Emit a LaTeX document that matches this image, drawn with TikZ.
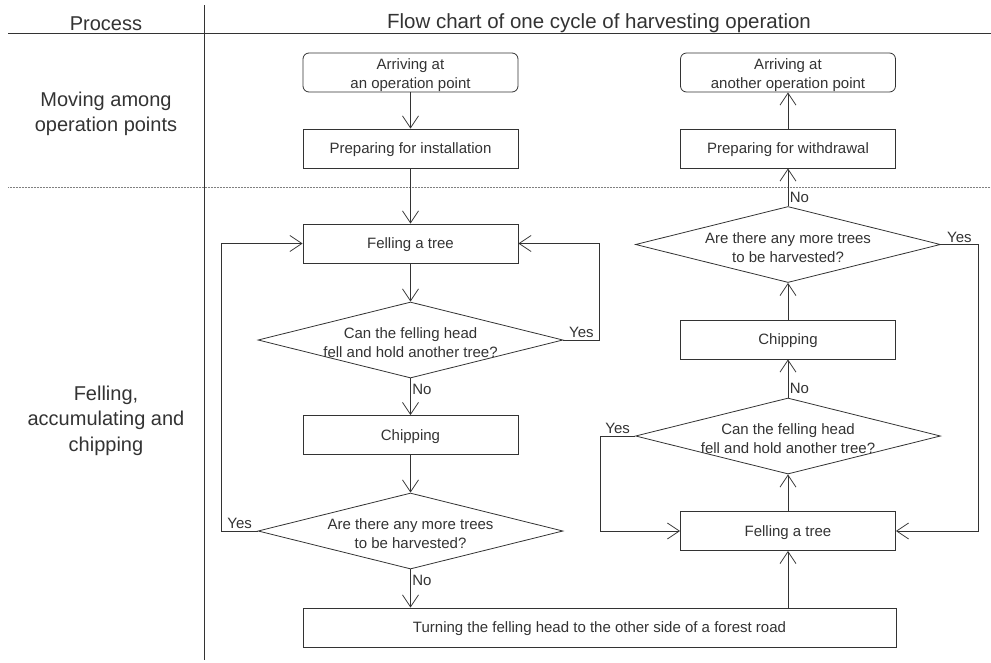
\documentclass[tikz,border=0pt]{standalone}
\usepackage{fontspec}
\setmainfont{Liberation Sans}
\usetikzlibrary{shapes.geometric,arrows.meta}

\begin{document}
\begin{tikzpicture}[x=1pt, y=-1pt, line width=0.8pt, color=black!80,
  every node/.style={font=\fontsize{15}{19}\selectfont},
  box/.style={rectangle, draw, minimum width=215, minimum height=39, align=center, text depth=0pt},
  endbox/.style={box, rounded corners=6pt},
  decide/.style={diamond, draw, minimum width=305, minimum height=76, inner sep=0pt},
  inside/.style={align=center, yshift=-3pt},
  flow/.style={-{Straight Barb[length=12pt,width=16pt]}},
  ans/.style={inner sep=1.5pt},
  big/.style={align=center, font=\fontsize{20}{25.5}\selectfont}]
  \useasboundingbox (0,0) rectangle (991,662);

  \draw (8,33) -- (991,33);
  \draw (204,5) -- (204,660);
  \draw[densely dotted, line width=0.5pt, gray] (8,187) -- (991,187);

  \node[big] (hproc) at (106,23.5) {Process};
  \node[big, font=\fontsize{20.5}{25.5}\selectfont] (hflow) at (599,23.5) {Flow chart of one cycle of harvesting operation};
  \node[big] (moving) at (106,114) {Moving among\\operation points};
  \node[big] (felling) at (106,420.5) {Felling,\\accumulating and\\chipping};

  \node[endbox, label={[inside]center:Arriving at\\an operation point}] (arr1) at (410.5,72.5) {};
  \node[box] (prep1) at (410.5,148.5) {Preparing for installation};
  \node[box] (fell1) at (410.5,243.5) {Felling a tree};
  \node[decide, label={[inside]center:Can the felling head\\fell and hold another tree?}] (dec1) at (410.5,340) {};
  \node[box] (chip1) at (410.5,435) {Chipping};
  \node[decide, label={[inside]center:Are there any more trees\\to be harvested?}] (dec2) at (410.5,531) {};
  \node[box, minimum width=593] (turn) at (599.5,627.5) {Turning the felling head to the other side of a forest road};

  \node[box] (fell2) at (788,531) {Felling a tree};
  \node[decide, label={[inside]center:Can the felling head\\fell and hold another tree?}] (dec3) at (788,436) {};
  \node[box] (chip2) at (788,339.5) {Chipping};
  \node[decide, label={[inside]center:Are there any more trees\\to be harvested?}] (dec4) at (788,244.5) {};
  \node[box] (prep2) at (788,148.5) {Preparing for withdrawal};
  \node[endbox, label={[inside]center:Arriving at\\another operation point}] (arr2) at (788,72.5) {};

  \draw[flow] (arr1) -- (prep1);
  \draw[flow] (prep1) -- (fell1);
  \draw[flow] (fell1) -- (dec1);
  \draw[flow] (dec1) -- node[pos=0.3, right, ans] {No} (chip1);
  \draw[flow] (dec1.east) -- node[above, ans] {Yes} ++(36,0) |- (fell1.east);
  \draw[flow] (chip1) -- (dec2);
  \draw[flow] (dec2.west) -- node[above, ans] {Yes} ++(-36,0) |- (fell1.west);
  \draw[flow] (dec2.south) -- node[pos=0.28, right, ans] {No} (dec2.south |- turn.north);

  \draw[flow] (fell2.south |- turn.north) -- (fell2.south);
  \draw[flow] (fell2) -- (dec3);
  \draw[flow] (dec3.north) -- node[pos=0.24, right, ans] {No} (chip2.south);
  \draw[flow] (dec3.west) -- node[above, ans] {Yes} ++(-35,0) |- (fell2.west);
  \draw[flow] (chip2) -- (dec4);
  \draw[flow] (dec4.north) -- node[pos=0.23, right, ans] {No} (prep2.south);
  \draw[flow] (dec4.east) -- node[above, ans] {Yes} ++(37,0) |- (fell2.east);
  \draw[flow] (prep2) -- (arr2);

\end{tikzpicture}
\end{document}
